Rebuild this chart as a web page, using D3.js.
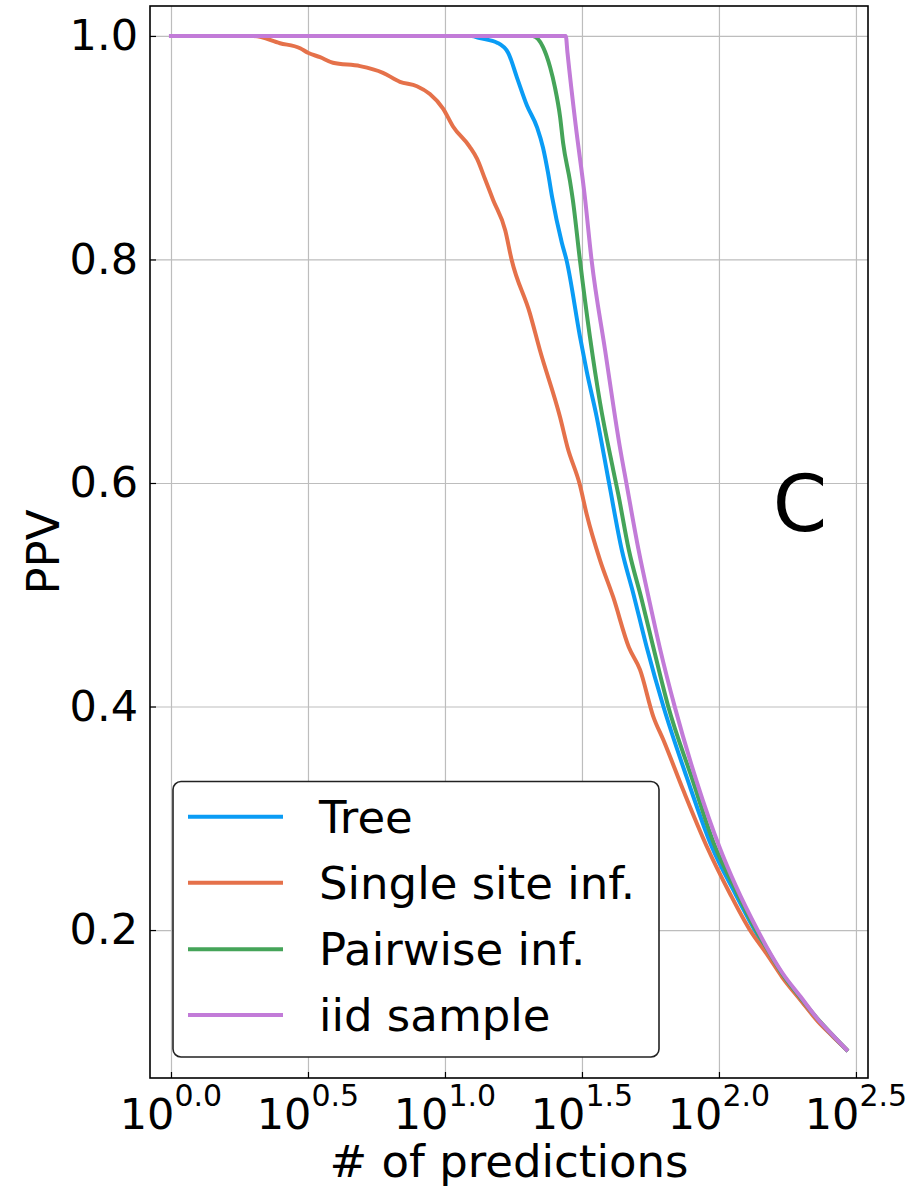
<!DOCTYPE html>
<html>
<head>
<meta charset="utf-8">
<script src="https://cdn.jsdelivr.net/npm/d3@7"></script>
<style>
  html, body { margin: 0; padding: 0; background: #fff; }
  svg { display: block; font-family: "DejaVu Sans", sans-serif; }
</style>
</head>
<body>
<svg id="chart" width="922" height="1187"></svg>
<script>
// ---------------- data ----------------
const seriesNames = ["Tree", "Single site inf.", "Pairwise inf.", "iid sample"];
const seriesColors = ["#0a9cf5", "#e5714a", "#45a459", "#c27bd8"];

const treeN   = [1, 12.5, 13.4, 15.5, 17.0, 18.3, 19.9, 21.7, 22.8, 23.8, 24.6, 26.7, 27.8, 31.1, 32.9, 35.8, 39.7, 44.2, 48.7, 54.5, 62.7, 76.2, 94.0, 115, 135, 150, 170, 200, 230, 260, 292];
const treePPV = [1, 1.0, 0.998, 0.994, 0.985, 0.963, 0.938, 0.918, 0.900, 0.877, 0.856, 0.815, 0.799, 0.731, 0.700, 0.659, 0.600, 0.540, 0.501, 0.453, 0.400, 0.337, 0.275, 0.232, 0.200, 0.181, 0.160, 0.137, 0.119, 0.105, 0.093];

const singleN   = [1, 2.0, 2.5, 2.96, 3.16, 3.5, 3.9, 4.9, 5.94, 6.85, 7.9, 8.81, 9.84, 10.7, 12.3, 13.1, 14.0, 15.0, 16.6, 17.5, 20.4, 22.2, 26.3, 28.0, 31.1, 32.9, 36.8, 41.1, 46.9, 51.5, 57.6, 62.7, 74.1, 90.2, 110, 129.7, 150, 170, 199, 230, 260, 292];
const singlePPV = [1, 1.0, 0.9935, 0.989, 0.985, 0.981, 0.976, 0.973, 0.967, 0.959, 0.955, 0.948, 0.935, 0.919, 0.901, 0.890, 0.872, 0.853, 0.826, 0.800, 0.752, 0.719, 0.659, 0.632, 0.598, 0.572, 0.531, 0.498, 0.453, 0.433, 0.391, 0.370, 0.325, 0.275, 0.232, 0.200, 0.178, 0.158, 0.137, 0.118, 0.105, 0.093];

const pairN   = [1, 20.9, 22.8, 24.2, 25.2, 26.3, 27.0, 28.6, 29.3, 31.1, 33.8, 36.8, 41.1, 42.9, 46.9, 52.2, 57.6, 65.3, 79.4, 96.7, 115, 136.4, 150, 170, 199, 230, 260, 292];
const pairPPV = [1, 1.0, 0.990, 0.972, 0.954, 0.928, 0.904, 0.870, 0.853, 0.799, 0.731, 0.672, 0.612, 0.590, 0.540, 0.496, 0.453, 0.400, 0.337, 0.275, 0.236, 0.200, 0.183, 0.161, 0.139, 0.120, 0.106, 0.093];

const iidN   = [1, 27.6, 28.0, 30.0, 32.4, 34.3, 38.4, 43.5, 46.0, 50.8, 56.0, 60.9, 69.1, 82.9, 100.9, 115, 139, 150, 170, 199, 230, 260, 292];
const iidPPV = [1, 1.0, 0.985, 0.920, 0.856, 0.799, 0.719, 0.632, 0.599, 0.541, 0.492, 0.452, 0.399, 0.333, 0.273, 0.240, 0.199, 0.184, 0.162, 0.140, 0.120, 0.106, 0.093];

const xTickExponents = [0.0, 0.5, 1.0, 1.5, 2.0, 2.5];
const xTickLabels = ["0.0", "0.5", "1.0", "1.5", "2.0", "2.5"];
const yTicks = [0.2, 0.4, 0.6, 0.8, 1.0];
const yTickLabels = ["0.2", "0.4", "0.6", "0.8", "1.0"];
const xAxisTitle = "# of predictions";
const yAxisTitle = "PPV";
const panelLetter = "C";

// ---------------- layout ----------------
const svg = d3.select("#chart");
const L = 150, R = 868, T = 6, B = 1078;

const x = d3.scaleLog().domain([Math.pow(10, -0.0766), Math.pow(10, 2.544)]).range([L, R]);
const y = d3.scaleLinear().domain([0.0676, 1.0268]).range([B, T]);

const xTickVals = xTickExponents.map(e => Math.pow(10, e));

// grid
const grid = svg.append("g").attr("class", "grid");
grid.append("g")
  .attr("transform", `translate(0,${B})`)
  .call(d3.axisBottom(x).tickValues(xTickVals).tickSize(-(B - T)).tickFormat(""))
  .call(g => g.select(".domain").remove())
  .call(g => g.selectAll("line").attr("stroke", "#bdbdbd").attr("stroke-width", 1.2));
grid.append("g")
  .attr("transform", `translate(${L},0)`)
  .call(d3.axisLeft(y).tickValues(yTicks).tickSize(-(R - L)).tickFormat(""))
  .call(g => g.select(".domain").remove())
  .call(g => g.selectAll("line").attr("stroke", "#bdbdbd").attr("stroke-width", 1.2));

// series
const series = [
  { name: seriesNames[0], color: seriesColors[0], n: treeN, v: treePPV },
  { name: seriesNames[1], color: seriesColors[1], n: singleN, v: singlePPV },
  { name: seriesNames[2], color: seriesColors[2], n: pairN, v: pairPPV },
  { name: seriesNames[3], color: seriesColors[3], n: iidN, v: iidPPV }
];
const line = d3.line().curve(d3.curveMonotoneX).x(d => x(d[0])).y(d => y(d[1]));
const plot = svg.append("g");
series.forEach(s => {
  plot.append("path")
    .datum(s.n.map((n, i) => [n, s.v[i]]))
    .attr("fill", "none")
    .attr("stroke", s.color)
    .attr("stroke-width", 4)
    .attr("stroke-linejoin", "round")
    .attr("stroke-linecap", "square")
    .attr("d", line);
});

// axes (inward ticks)
const xAxis = svg.append("g")
  .attr("transform", `translate(0,${B})`)
  .call(d3.axisBottom(x).tickValues(xTickVals).tickSizeInner(-6).tickSizeOuter(0).tickPadding(14).tickFormat(""));
xAxis.select(".domain").remove();
xAxis.selectAll("line").attr("stroke", "#000").attr("stroke-width", 1.2);
xAxis.selectAll(".tick text").remove();
xTickExponents.forEach((e, i) => {
  const t = svg.append("text")
    .attr("x", x(Math.pow(10, e)))
    .attr("y", 1129)
    .attr("text-anchor", "middle")
    .attr("fill", "#000");
  t.append("tspan").attr("font-size", 43).text("10");
  t.append("tspan").attr("font-size", 30).attr("dy", -23).text(xTickLabels[i]);
});

const yAxis = svg.append("g")
  .attr("transform", `translate(${L},0)`)
  .call(d3.axisLeft(y).tickValues(yTicks).tickSizeInner(-6).tickSizeOuter(0).tickPadding(12)
    .tickFormat((d, i) => yTickLabels[i]));
yAxis.select(".domain").remove();
yAxis.selectAll("line").attr("stroke", "#000").attr("stroke-width", 1.2);
yAxis.selectAll("text").attr("font-size", 43).attr("fill", "#000").attr("font-family", "DejaVu Sans");

// frame
svg.append("rect")
  .attr("x", L).attr("y", T).attr("width", R - L).attr("height", B - T)
  .attr("fill", "none").attr("stroke", "#000").attr("stroke-width", 1.6);

// axis titles
svg.append("text")
  .attr("x", (L + R) / 2).attr("y", 1177)
  .attr("text-anchor", "middle").attr("font-size", 45).attr("fill", "#000")
  .text(xAxisTitle);
svg.append("text")
  .attr("transform", `translate(59,${552}) rotate(-90)`)
  .attr("text-anchor", "middle").attr("font-size", 45).attr("fill", "#000")
  .text(yAxisTitle);

// panel letter
svg.append("text")
  .attr("x", 800).attr("y", 531)
  .attr("text-anchor", "middle").attr("font-size", 78).attr("fill", "#000")
  .text(panelLetter);

// legend
const lg = svg.append("g");
lg.append("rect")
  .attr("x", 173).attr("y", 781.5).attr("width", 486).attr("height", 275.5)
  .attr("rx", 8).attr("ry", 8)
  .attr("fill", "#fff").attr("stroke", "#222").attr("stroke-width", 1.6);
const legendY = [816.7, 882.7, 949.3, 1015];
series.forEach((s, i) => {
  lg.append("line")
    .attr("x1", 188).attr("x2", 283)
    .attr("y1", legendY[i]).attr("y2", legendY[i])
    .attr("stroke", s.color).attr("stroke-width", 4);
  lg.append("text")
    .attr("x", 319).attr("y", legendY[i] + 16)
    .attr("font-size", 45).attr("fill", "#000")
    .text(s.name);
});
</script>
</body>
</html>
